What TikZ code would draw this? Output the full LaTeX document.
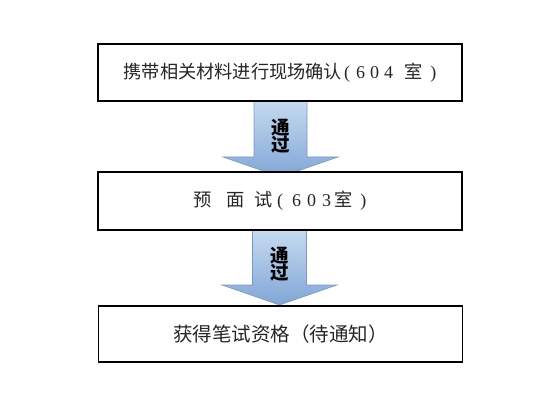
\documentclass[tikz,border=0pt]{standalone}
\usepackage{fontspec}
\setmainfont{Liberation Serif}
\newfontfamily\cjk{Noto Sans CJK SC}
\usetikzlibrary{calc}
\definecolor{arrtop}{RGB}{198,218,241}
\definecolor{arrbot}{RGB}{128,166,214}
\definecolor{arrline}{RGB}{122,152,198}
\newcommand{\dg}[1]{{\rmfamily\fontsize{18}{20}\selectfont #1}}
\tikzset{
  stepbox/.style={draw=black, line width=1.1pt, fill=white, minimum width=364pt, inner sep=0pt, font=\cjk\fontsize{18.2}{20}\selectfont, text=black!85},
  blockarrow/.style={top color=arrtop, bottom color=arrbot, draw=arrline, line width=0.6pt},
  passlabel/.style={font=\cjk\bfseries\fontsize{18.5}{20}\selectfont, align=center, inner sep=0pt}
}
\begin{document}
\begin{tikzpicture}[x=1pt,y=-1pt]
\useasboundingbox (0,0) rectangle (560,401);
% anchors for arrows
\coordinate (a1) at (280.5,101);
\coordinate (a2) at (279.5,230);
% arrows (drawn first, boxes cover their ends)
\shade[blockarrow] ($(a1)+(-26.5,0)$) -- ($(a1)+(26.5,0)$) -- ($(a1)+(26.5,56)$) -- ($(a1)+(57.5,56)$) -- ($(a1)+(0,76)$) -- ($(a1)+(-57.5,56)$) -- ($(a1)+(-26.5,56)$) -- cycle;
\shade[blockarrow] ($(a2)+(-27,0)$) -- ($(a2)+(27,0)$) -- ($(a2)+(27,55)$) -- ($(a2)+(57.5,55)$) -- ($(a2)+(0,75)$) -- ($(a2)+(-57.5,55)$) -- ($(a2)+(-27,55)$) -- cycle;
% boxes
\node[stepbox, minimum height=57pt] (b1) at (280,72.5) {携带相关材料进行现场确认\hspace{2pt}\dg{(}\hspace{6pt}\dg{6}\hspace{5pt}\dg{0}\hspace{5pt}\dg{4}\hspace{11pt}室\hspace{8pt}\dg{)}};
\node[stepbox, minimum height=58pt] (b2) at (280,201) {预\hspace{15pt}面\hspace{10pt}试\hspace{4pt}\dg{(}\hspace{9pt}\dg{6}\hspace{6pt}\dg{0}\hspace{6pt}\dg{3}\hspace{3pt}室\hspace{8pt}\dg{)}};
\node[stepbox, minimum height=56pt, font=\cjk\fontsize{19.5}{21}\selectfont] (b3) at (280.5,334) {获得笔试资格（待通知）};
% labels on arrows
\node[passlabel] (p1) at (281,136) {通\\[-3pt]过};
\node[passlabel] (p2) at (279.5,264) {通\\[-3pt]过};
\end{tikzpicture}
\end{document}
